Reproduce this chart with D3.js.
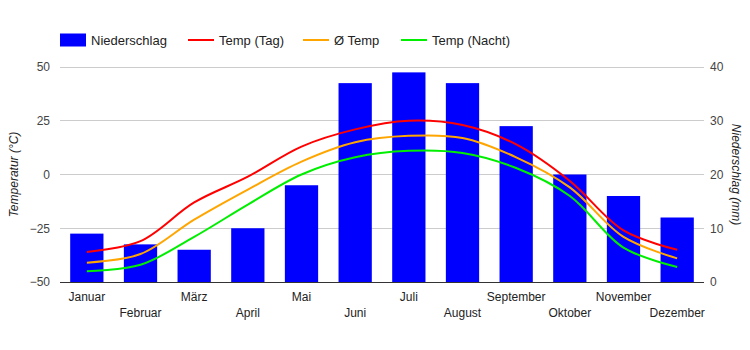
<!DOCTYPE html>
<html>
<head>
<meta charset="utf-8">
<script src="https://cdn.jsdelivr.net/npm/d3@7"></script>
<style>
  body { margin: 0; background: #fff; }
  svg { font-family: Arial, "Liberation Sans", sans-serif; }
</style>
</head>
<body>
<div id="chart"><svg width="750" height="350"></svg></div>
<script>
const months = ["Januar", "Februar", "März", "April", "Mai", "Juni", "Juli",
  "August", "September", "Oktober", "November", "Dezember"];
const niederschlag = [9, 7, 6, 10, 18, 37, 39, 37, 29, 20, 16, 12];
const tempTag = [-36, -31, -13, -1, 13, 21, 25, 23, 14, -3, -26, -35];
const tempMittel = [-41, -37, -21, -7, 6, 15, 18, 17, 8, -6, -29, -39];
const tempNacht = [-45, -42, -29, -14, 0, 8, 11, 10, 3, -10, -34, -43];
const tempTicks = [-50, -25, 0, 25, 50];
const rainTicks = [0, 10, 20, 30, 40];

const margin = { top: 67, right: 46, bottom: 68, left: 60 },
  width = 750 - margin.left - margin.right,
  height = 350 - margin.top - margin.bottom;

const svg = d3.select("#chart svg")
  .append("g")
  .attr("transform", `translate(${margin.left},${margin.top})`);

const x = d3.scaleBand().domain(months).range([0, width]).paddingInner(0.38).paddingOuter(0.19);
const yT = d3.scaleLinear().domain([-50, 50]).range([height, 0]);
const yR = d3.scaleLinear().domain([0, 40]).range([height, 0]);

// gridlines
svg.append("g")
  .selectAll("line")
  .data(tempTicks)
  .enter()
  .append("line")
  .attr("x1", 0)
  .attr("x2", width)
  .attr("y1", d => yT(d))
  .attr("y2", d => yT(d))
  .style("stroke", "#cccccc")
  .style("stroke-width", 1)
  .attr("shape-rendering", "crispEdges");

// bars
svg.selectAll(".bar")
  .data(niederschlag)
  .enter()
  .append("rect")
  .attr("class", "bar")
  .attr("x", (d, i) => x(months[i]))
  .attr("width", x.bandwidth())
  .attr("y", d => yR(d))
  .attr("height", d => height - yR(d))
  .style("fill", "#0000ff");

// baseline
svg.append("line")
  .attr("x1", 0).attr("x2", width)
  .attr("y1", height).attr("y2", height)
  .style("stroke", "#333")
  .attr("shape-rendering", "crispEdges");

const line = d3.line()
  .x((d, i) => x(months[i]) + x.bandwidth() / 2)
  .y(d => yT(d))
  .curve(d3.curveCatmullRom.alpha(0.5));

const series = [
  { name: "Temp (Tag)", values: tempTag, color: "#ff0000" },
  { name: "Ø Temp", values: tempMittel, color: "#ffa500" },
  { name: "Temp (Nacht)", values: tempNacht, color: "#00ee00" }
];

svg.selectAll(".line")
  .data(series)
  .enter()
  .append("path")
  .attr("class", "line")
  .attr("d", d => line(d.values))
  .style("fill", "none")
  .style("stroke", d => d.color)
  .style("stroke-width", "2px");

// left axis
const yAxisL = svg.append("g")
  .call(d3.axisLeft(yT).tickValues(tempTicks).tickSize(0).tickPadding(10));
yAxisL.select(".domain").remove();
yAxisL.selectAll("text").style("font-size", "12px").style("fill", "#444");

// right axis
const yAxisR = svg.append("g")
  .attr("transform", `translate(${width},0)`)
  .call(d3.axisRight(yR).tickValues(rainTicks).tickSize(0).tickPadding(6));
yAxisR.select(".domain").remove();
yAxisR.selectAll("text").style("font-size", "12px").style("fill", "#444");

// x labels, two rows
svg.selectAll(".xlabel")
  .data(months)
  .enter()
  .append("text")
  .attr("class", "xlabel")
  .attr("x", d => x(d) + x.bandwidth() / 2)
  .attr("y", (d, i) => height + (i % 2 === 0 ? 19 : 35))
  .style("text-anchor", "middle")
  .style("font-size", "12px")
  .style("fill", "#222")
  .text(d => d);

// axis titles
svg.append("text")
  .attr("transform", `translate(${-42},${height / 2}) rotate(-90)`)
  .style("text-anchor", "middle")
  .style("font-size", "12px")
  .style("font-style", "italic")
  .style("fill", "#222")
  .text("Temperatur (°C)");

svg.append("text")
  .attr("transform", `translate(${width + 28},${height / 2}) rotate(90)`)
  .style("text-anchor", "middle")
  .style("font-size", "12px")
  .style("font-style", "italic")
  .style("fill", "#222")
  .text("Niederschlag (mm)");

// legend
const legendItems = [
  { name: "Niederschlag", color: "#0000ff", type: "rect", x: 60 },
  { name: "Temp (Tag)", color: "#ff0000", type: "line", x: 188 },
  { name: "Ø Temp", color: "#ffa500", type: "line", x: 303 },
  { name: "Temp (Nacht)", color: "#00ee00", type: "line", x: 401 }
];

const legend = d3.select("#chart svg")
  .selectAll(".legend")
  .data(legendItems)
  .enter()
  .append("g")
  .attr("class", "legend")
  .attr("transform", d => `translate(${d.x},40)`);

legend.filter(d => d.type === "rect")
  .append("rect")
  .attr("x", 0).attr("y", -6.5)
  .attr("width", 26).attr("height", 13)
  .style("fill", d => d.color);

legend.filter(d => d.type === "line")
  .append("line")
  .attr("x1", 0).attr("x2", 26)
  .attr("y1", 0).attr("y2", 0)
  .style("stroke", d => d.color)
  .style("stroke-width", 2);

legend.append("text")
  .attr("x", 31)
  .attr("y", 0)
  .attr("dy", ".35em")
  .style("font-size", "13px")
  .style("fill", "#222")
  .text(d => d.name);
</script>
</body>
</html>
